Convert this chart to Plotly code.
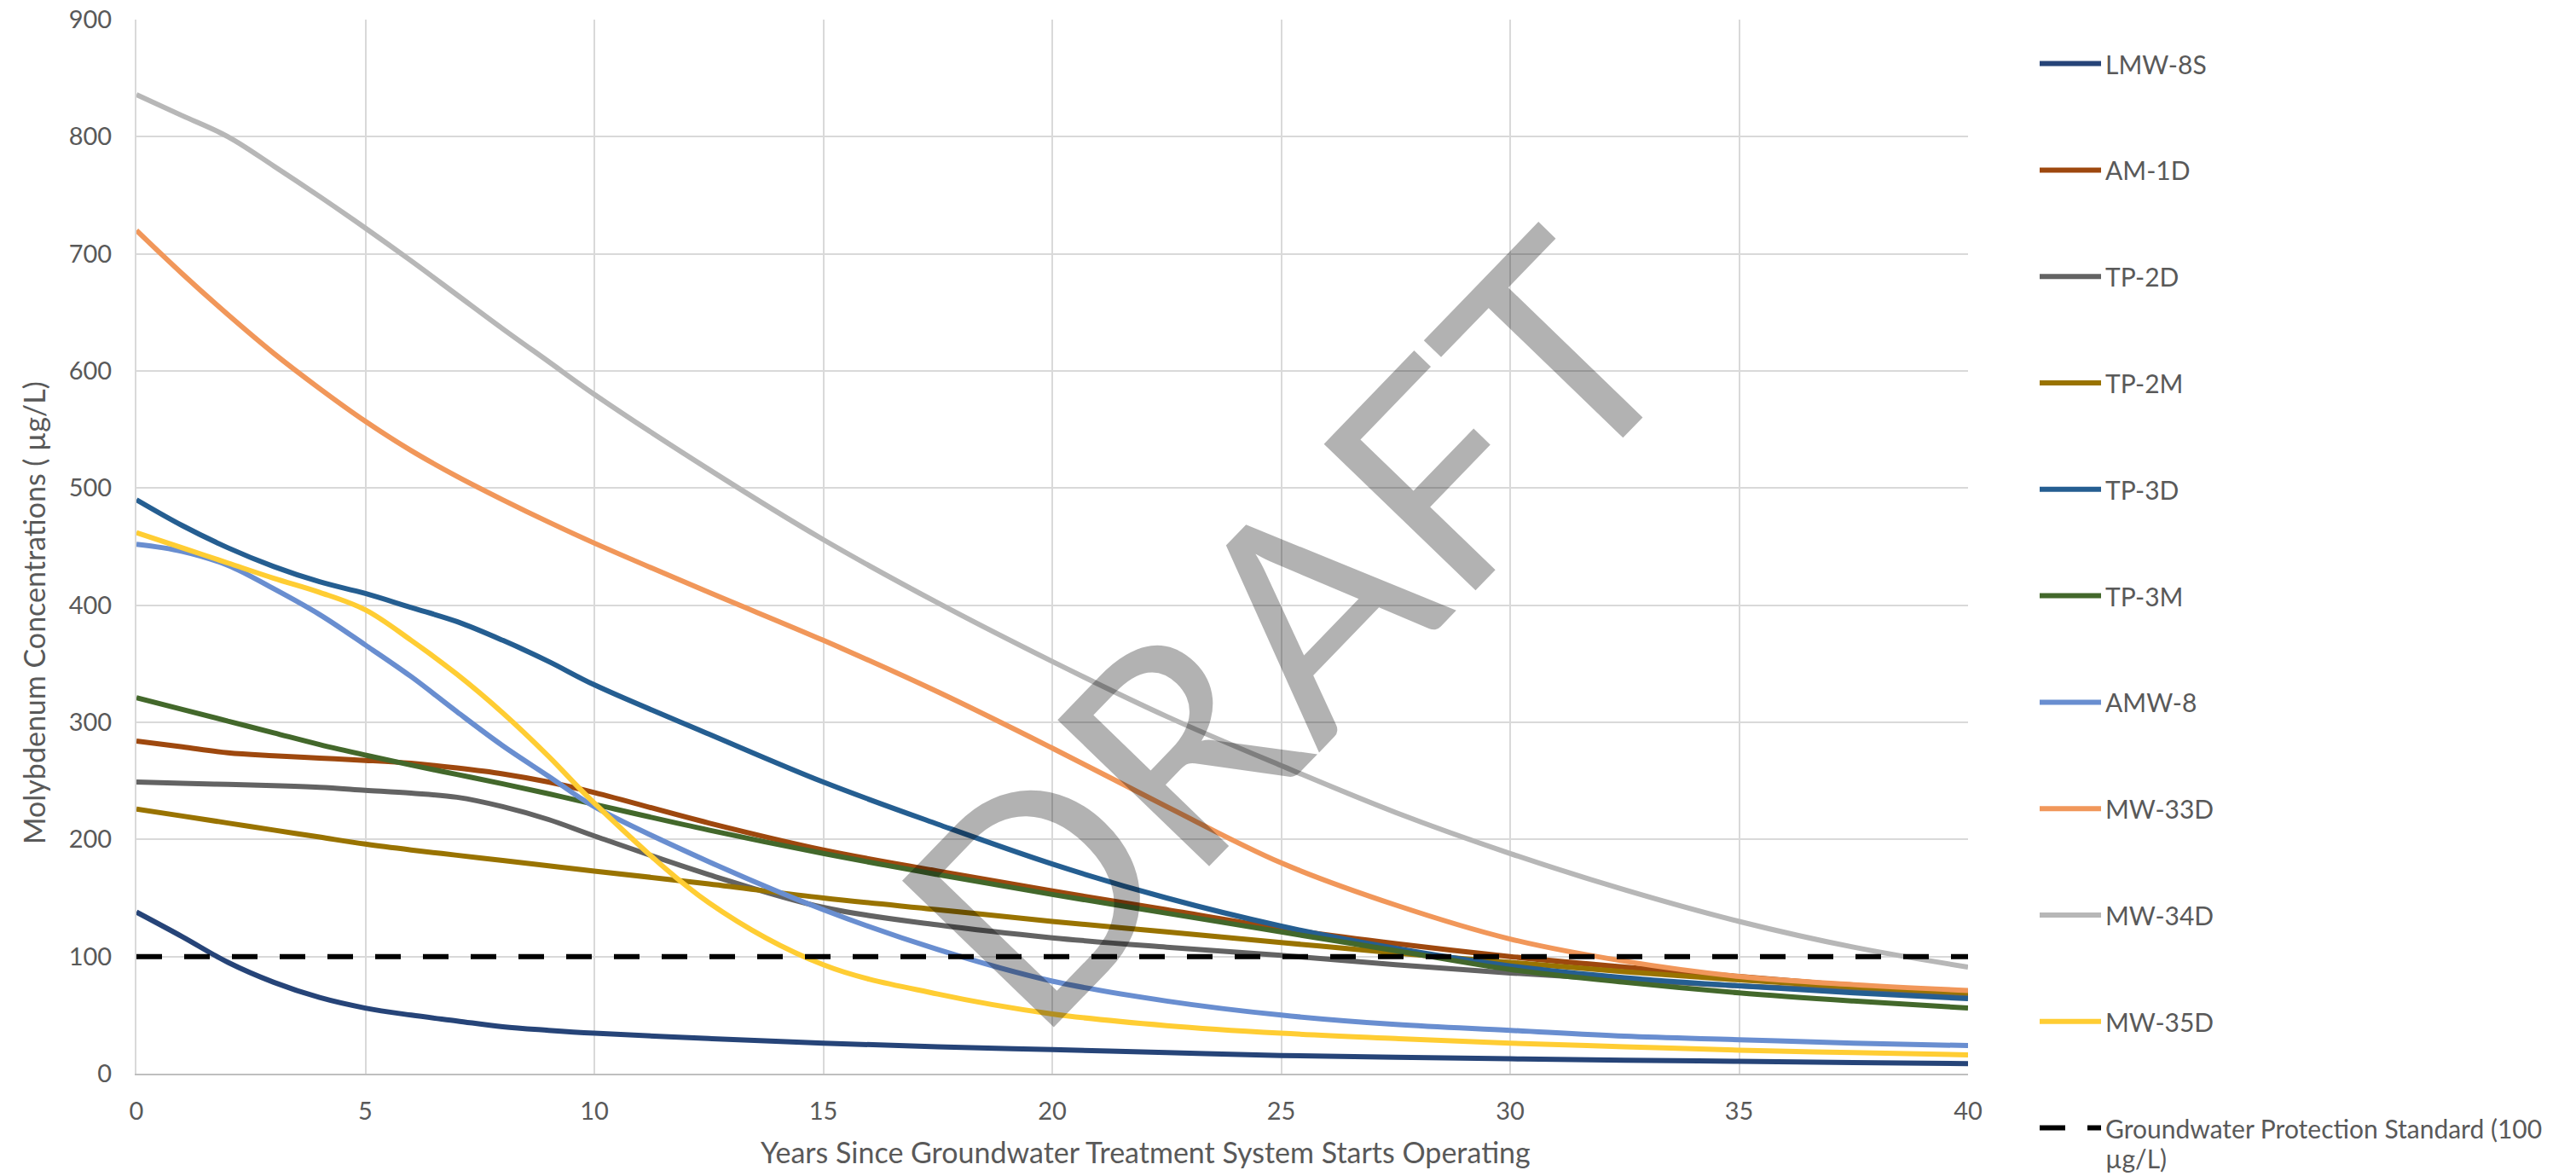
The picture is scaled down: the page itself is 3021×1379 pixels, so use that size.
import plotly.graph_objects as go

# ---------------- data ----------------
years = [0, 1, 2, 3, 4, 5, 6, 7, 8, 9, 10, 12.5, 15, 17.5, 20, 22.5, 25, 27.5, 30, 32.5, 35, 37.5, 40]

lmw_8s = [138, 117, 95, 78, 65, 56, 50, 45, 40, 37, 34.5, 30, 26, 23, 20.5, 18, 15.5, 14, 12.7, 11.5, 10.5, 9.5, 8.5]
am_1d = [284, 279, 274, 271.5, 269.5, 267.5, 265, 261, 256, 249, 240, 214, 191, 173, 156, 140, 124, 111, 100, 91, 83, 75, 68]
tp_2d = [249, 248, 247, 246, 244.5, 242, 239.5, 236, 228, 217, 203, 170, 142, 127, 116, 108, 101, 93, 86, 80, 75, 71, 68]
tp_2m = [226, 220, 214, 208, 202, 196, 191, 186.5, 182, 177.5, 173, 162, 150, 140, 130, 121, 112, 103, 95, 87, 80, 74, 69]
tp_3d = [490, 468, 449, 433, 420, 410, 398, 386, 370, 352, 332, 290, 249, 213, 179, 150, 126, 107, 92, 82, 75, 69, 64]
tp_3m = [321, 311, 301, 291, 281, 272, 263.5, 255.5, 247.5, 239, 230, 208, 188, 170, 153, 137, 121, 105, 89, 78, 69, 62, 56]
amw_8 = [452, 446, 434, 414, 392, 366, 339, 309, 280, 254, 228, 181, 140, 106, 79, 62, 50, 42, 37, 32, 29, 26, 24]
mw_33d = [720, 683, 648, 615, 585, 557, 532, 510, 490, 471, 453, 411, 370, 326, 278, 228, 180, 144, 115, 96, 83, 76, 71]
mw_34d = [836, 818, 800, 775, 749, 722, 694, 665, 636, 608, 580, 516, 456, 402, 352, 305, 263, 223, 188, 157, 130, 108, 91]
mw_35d = [462, 449, 436, 423, 411, 396, 370, 341, 308, 271, 231, 146, 93, 68, 51, 41, 34.5, 30, 26, 23, 20, 18, 16]

standard_years = [0, 40]
standard_values = [100, 100]

series_names = ["LMW-8S", "AM-1D", "TP-2D", "TP-2M", "TP-3D", "TP-3M",
                "AMW-8", "MW-33D", "MW-34D", "MW-35D"]
series_values = [lmw_8s, am_1d, tp_2d, tp_2m, tp_3d, tp_3m,
                 amw_8, mw_33d, mw_34d, mw_35d]
series_colors = ["#264478", "#9E480E", "#636363", "#997300", "#255E91",
                 "#43682B", "#698ED0", "#F1975A", "#B7B7B7", "#FFCD33"]
standard_lines = ["Groundwater Protection Standard (100", "µg/L)"]

x_title = "Years Since Groundwater Treatment System Starts Operating"
y_title = "Molybdenum Concentrations ( µg/L)"
x_ticks = [0, 5, 10, 15, 20, 25, 30, 35, 40]
y_ticks = [0, 100, 200, 300, 400, 500, 600, 700, 800, 900]

# ---------------- layout geometry (page pixels) ----------------
W, H = 3021, 1379
L, R, T, B = 160, 2308, 23, 1259      # plot area in pixels
FONT = "Lato"
TXT = "#595959"
DASH = "30px,26px"


def px(xp):
    return (xp - L) / (R - L)


def py(yp):
    return (B - yp) / (B - T)


fig = go.Figure()

for name, vals, col in zip(series_names, series_values, series_colors):
    fig.add_trace(go.Scatter(
        x=years, y=vals, name=name, mode="lines",
        line=dict(color=col, width=6, shape="spline", smoothing=1.0),
        showlegend=False))

fig.add_trace(go.Scatter(
    x=standard_years, y=standard_values,
    name="Groundwater Protection Standard (100 µg/L)",
    mode="lines", line=dict(color="black", width=6, dash=DASH),
    showlegend=False))

# ---------------- legend (right side) ----------------
leg_names = series_names + [standard_lines[0]]
leg_colors = series_colors + ["black"]
leg_y = [74.6 + 124.8 * i for i in range(len(leg_names))]
for i, (nm, col, yy) in enumerate(zip(leg_names, leg_colors, leg_y)):
    fig.add_shape(type="line", xref="paper", yref="paper",
                  x0=px(2392), x1=px(2464), y0=py(yy), y1=py(yy),
                  line=dict(color=col, width=6,
                            dash=DASH if i == len(leg_names) - 1 else "solid"))
    fig.add_annotation(xref="paper", yref="paper", x=px(2467), y=py(yy),
                       xanchor="left", yanchor="middle", align="left",
                       text=nm, showarrow=False,
                       font=dict(family=FONT, size=30, color=TXT))
fig.add_annotation(xref="paper", yref="paper", x=px(2467), y=py(leg_y[-1] + 35),
                   xanchor="left", yanchor="middle", align="left",
                   text=standard_lines[1], showarrow=False,
                   font=dict(family=FONT, size=30, color=TXT))

# ---------------- axis titles ----------------
fig.add_annotation(xref="paper", yref="paper", x=px(1343), y=py(1350),
                   xanchor="center", yanchor="middle", text=x_title, showarrow=False,
                   font=dict(family=FONT, size=34, color=TXT))
fig.add_annotation(xref="paper", yref="paper", x=px(39), y=py(719),
                   xanchor="center", yanchor="middle", text=y_title, showarrow=False,
                   textangle=-90, font=dict(family=FONT, size=34, color=TXT))

# ---------------- DRAFT watermark ----------------
fig.add_annotation(xref="paper", yref="paper", x=px(1503), y=py(735),
                   xanchor="center", yanchor="middle", text="DRAFT", showarrow=False,
                   textangle=-46, font=dict(family=FONT, size=345, color="rgba(0,0,0,0.3)"))

fig.update_layout(
    template="none",
    width=W, height=H,
    margin=dict(l=L, r=W - R, t=T, b=H - B, pad=0, autoexpand=False),
    paper_bgcolor="white", plot_bgcolor="white",
    showlegend=False,
    font=dict(family=FONT, size=29, color=TXT),
)
fig.update_xaxes(range=[0, 40], tickvals=x_ticks, ticktext=[str(v) for v in x_ticks],
                 showgrid=True, gridcolor="#D9D9D9", gridwidth=2, automargin=False,
                 zeroline=False, showline=True, linecolor="#BFBFBF", linewidth=2,
                 ticks="", ticklabelstandoff=17, ticklabeloverflow="allow",
                 tickfont=dict(family=FONT, size=29, color=TXT))
fig.update_yaxes(range=[0, 900], tickvals=y_ticks, ticktext=[str(v) for v in y_ticks],
                 showgrid=True, gridcolor="#D9D9D9", gridwidth=2, automargin=False,
                 zeroline=False, showline=True, linecolor="#D9D9D9", linewidth=2,
                 ticks="", ticklabelstandoff=21, ticklabeloverflow="allow",
                 tickfont=dict(family=FONT, size=29, color=TXT))

fig.write_html("out.html",
               config={"displayModeBar": False},
               post_script="document.body.style.margin='0px';document.body.style.overflow='hidden';")
